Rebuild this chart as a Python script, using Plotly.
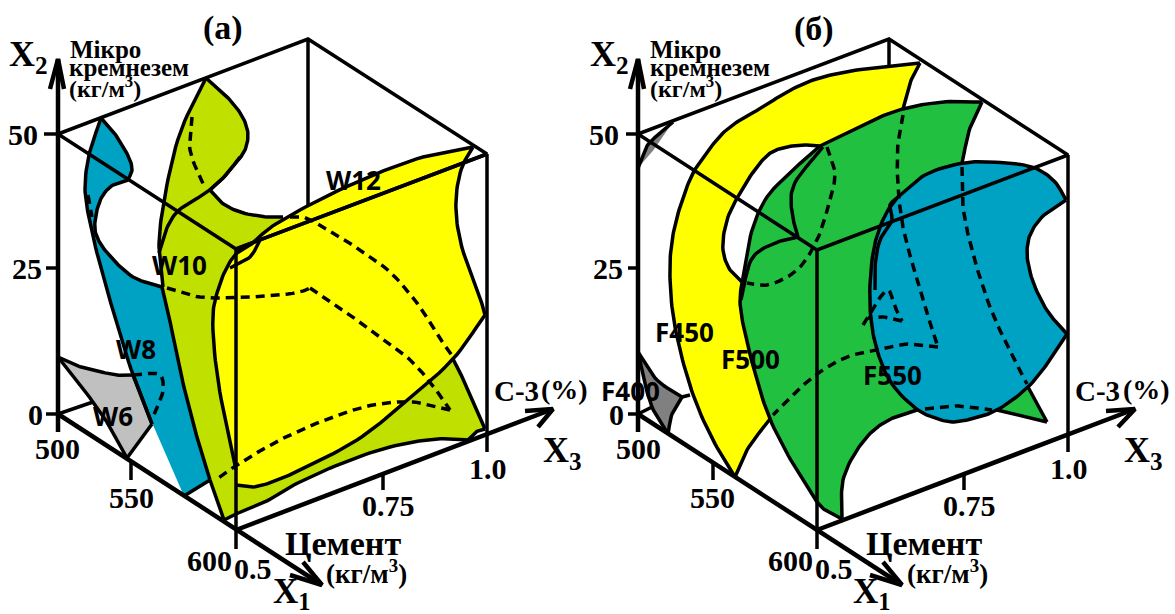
import plotly.graph_objects as go

# ---------- palette ----------
BLUE = "#00A2C4"; LIME = "#C0E000"; YELLOW = "#FFFF00"; GREEN = "#22C040"
GREY = "#C0C0C0"; DGREY = "#808080"; BLACK = "#000000"

# ---------- panel (a): contour boundaries ----------
W6_top = [(58,357),(75,365),(93,370),(117,375),(133,375)]
W6_right = [(133,375),(152,424)]
W6_low = [(152,424),(127,458)]
W6_left = [(127,458),(110,427),(93,402),(58,357)]

W8_right = [(101,118),(112,130),(122,145),(130,160),(132,170),(128,180)]
W8_hole = [(128,180),(113,185),(103,195),(97,210),(95,230),(100,243),(110,256),(133,277),(162,287)]
W8_edge = [(162,287),(167,307),(180,370),(195,430),(210,480)]
W8_bottom = [(210,480),(184,496)]
W8_left = [(152,424),(133,375),(112,307),(98,257),(88,213),(85,187),(89,155),(101,118)]

W10_right = [(206,78),(222,92),(236,107),(245,122),(248,135),(245,150),(236,163),(225,176),(210,190)]
W10_dip = [(210,190),(222,203),(240,212),(267,217),(283,217)]
W10_under = [(283,217),(300,240),(320,300),(320,420),(300,470)]
W10_left = [(163,287),(159,247),(163,207),(180,133),(206,78)]
W10_tip = [(210,480),(224,520)]
W10_tip2 = [(224,520),(236,514)]
W10_bottom = [(236,514),(265,502),(290,487),(340,464),(390,447),(437,439),(468,440)]
W10_corner = [(468,440),(476,432),(485,429)]
W10_far = [(485,429),(467,387),(453,359)]
W10_inner = [(159,253),(166,230),(177,212),(207,192),(225,176),(240,157)]

W12_top = [(473,147),(423,157),(357,182),(300,210),(267,230),(253,243),(237,253),(227,267),(217,293),(213,314),(217,374),(236,470)]
W12_low = [(236,485),(253,487),(275,481),(300,470),(357,440),(403,404),(453,359),(485,315)]
W12_right = [(485,315),(483,307),(460,240),(456,200),(462,167),(473,147)]
W12_extra = [(230,268),(250,257),(260,240)]

A_dash_1 = [(88,195),(92,217)]
A_dash_2 = [(133,375),(160,375),(163,390),(153,417)]
A_dash_3 = [(192,117),(190,150),(205,188)]
A_dash_4 = [(290,217),(303,217),(323,227),(357,248),(390,272),(420,307),(437,334),(453,357)]
A_dash_5 = [(167,288),(200,297),(250,297),(300,292),(310,288)]
A_dash_5b = [(310,288),(340,308),(373,332),(407,357),(430,382),(450,410)]
A_dash_6 = [(450,410),(413,402),(373,405),(333,417),(290,435),(267,447),(237,465),(217,479)]

# ---------- panel (б) ----------
F400_top = [(638,352),(657,380),(682,397)]
F400_tail = [(682,397),(690,395)]
F400_right = [(682,397),(672,414),(668,434)]
F400_left = [(668,434),(652,407),(638,352)]
F400_up = [(638,168),(647,146),(660,133),(673,122)]
F400_up2 = [(673,122),(655,148),(638,168)]

F450_outer = [(920,63),(880,67),(845,72),(813,80),(785,93),(763,107),(740,120),(723,133),(705,155),(693,173),(680,207),(673,235),(670,263),(672,307),(680,350),(695,400),(713,440),(735,477)]
F450_low = [(735,477),(747,450),(770,419)]
F450_edge = [(770,419),(757,380),(743,324),(740,300),(743,283)]
F450_hole = [(743,283),(730,270),(723,250),(727,220),(740,193),(760,163),(772,152),(787,147),(805,145),(820,146)]
F450_top = [(820,146),(847,133),(880,117),(903,109)]
F450_far = [(903,109),(910,83),(920,63)]

F500_left = [(817,502),(793,464),(770,419),(757,380),(743,324),(740,300),(743,277),(753,227),(767,197),(793,170),(820,146)]
F500_top = [(820,146),(880,117),(903,109),(942,102),(982,102)]
F500_far = [(982,102),(970,128),(962,163)]
F500_hid = [(962,163),(1000,250),(1028,387)]
F500_tipr = [(1028,387),(1047,422)]
F500_botr = [(1047,422),(997,410)]
F500_hid2 = [(997,410),(950,410),(917,410)]
F500_botl = [(917,410),(895,417),(875,429),(857,450),(843,480),(842,519)]
F500_corner = [(842,519),(825,510),(817,502)]

F550_top = [(898,197),(925,175),(963,163),(992,162),(1035,168),(1055,182),(1066,200)]
F550_cut = [(1066,200),(1042,217),(1030,235),(1027,253),(1030,272),(1035,287),(1048,312),(1067,334)]
F550_low = [(1067,334),(1050,360),(1028,387),(997,410),(975,418),(952,422),(935,418),(918,410),(892,384),(877,350),(870,307),(873,253),(880,227),(888,210),(898,197)]
F550_inner = [(875,290),(875,267),(880,240),(892,220),(890,205),(898,197)]

B_solid_1 = [(823,147),(793,187),(792,213),(798,237)]
B_solid_2 = [(741,300),(753,257),(775,243),(798,237)]
B_dash_1 = [(827,147),(835,173),(828,207),(817,240),(797,270),(767,285),(747,283)]
B_dash_2 = [(903,115),(898,143),(898,187),(903,227),(915,273),(925,307),(938,347)]
B_dash_3 = [(938,347),(908,344),(882,349),(847,357),(813,377),(773,415)]
B_dash_4 = [(962,167),(963,207),(972,250),(990,307),(1008,347),(1027,384)]
B_dash_5 = [(925,409),(955,406),(992,410)]
B_dash_6a = [(863,325),(875,305),(888,290),(895,307),(902,321)]
B_dash_6b = [(902,321),(885,317),(868,318)]

# ---------- box frames and axes ----------
frame_a = [[(58,134),(308,39),(487,154),(236,249),(58,134)], [(236,249),(487,154)], [(236,249),(236,530)],
           [(308,39),(308,205)], [(487,154),(487,435)], [(58,414),(93,402)]]
frame_b = [[(638,134),(889,39),(1068,155),(817,250),(638,134)], [(817,250),(817,530)],
           [(889,39),(889,65)], [(1068,155),(1068,435)], [(638,414),(654,406)]]
axes_a = [[(58,432),(58,59)], [(50,89),(58,59),(64,89)], [(58,414),(236,530),(322,585)], [(303,562),(322,585),(290,575)],
          [(236,530),(487,435),(553,409)], [(525,411),(553,409),(538,427)]]
axes_b = [[(638,432),(638,59)], [(630,89),(638,59),(644,89)], [(638,414),(817,530),(902,585)], [(883,562),(902,585),(870,575)],
          [(817,530),(1068,435),(1135,409)], [(1106,411),(1135,409),(1118,427)]]
ticks = [[(44,134),(58,134)], [(46,268),(58,268)], [(46,414),(58,414)], [(131,462),(131,480)], [(236,530),(236,549)],
         [(383,474),(383,490)], [(487,435),(487,452)],
         [(626,134),(638,134)], [(628,268),(638,268)], [(628,414),(638,414)], [(713,462),(713,480)], [(817,530),(817,549)],
         [(964,474),(964,490)], [(1068,435),(1068,452)]]

# ---------- texts: string, x, y, size ----------
serif_labels = [
    ("(a)",223,28,34), ("(б)",814,29,34),
    ("X<sub>2</sub>",28,56,36), ("X<sub>2</sub>",609,56,36),
    ("X<sub>3</sub>",562,452,36), ("X<sub>3</sub>",1143,452,36),
    ("X<sub>1</sub>",292,593,35), ("X<sub>1</sub>",872,593,35),
    ("50",23,134,30), ("25",27,268,30), ("0",35,414,30), ("500",57,448,30), ("550",131,497,30), ("600",209,560,30),
    ("0.5",253,568,30), ("0.75",388,505,30), ("1.0",488,468,30),
    ("50",604,134,30), ("25",608,268,30), ("0",616,414,30), ("500",638,448,30), ("550",712,497,30), ("600",790,560,30),
    ("0.5",834,568,30), ("0.75",969,505,30), ("1.0",1069,468,30),
    ("Цемент",343,543,34), ("Цемент",924,543,34),
    ("(кг/м<sup>3</sup>)",366,572,27), ("(кг/м<sup>3</sup>)",947,572,27),
    ("С-3",516,391,29), ("С-3",1097,391,29), ("(%)",564,389,28), ("(%)",1146,389,28),
    ("Мікро",105,49,25), ("кремнезем",129,67,25), ("(кг/м<sup>3</sup>)",105,87,24),
    ("Мікро",685,49,25), ("кремнезем",710,67,25), ("(кг/м<sup>3</sup>)",686,87,24),
]
sans_labels = [
    ("W12",353,180), ("W10",179,265), ("W8",136,349), ("W6",113,416),
    ("F450",684,332), ("F500",750,359), ("F550",892,375), ("F400",630,391),
]


def smooth(pts, steps=10):
    """Draw a hand-read boundary as a smooth (centripetal Catmull-Rom) curve through its points."""
    if len(pts) < 3:
        return list(pts)
    p = [(2*pts[0][0]-pts[1][0], 2*pts[0][1]-pts[1][1])] + list(pts) + [(2*pts[-1][0]-pts[-2][0], 2*pts[-1][1]-pts[-2][1])]
    out = []
    for i in range(1, len(p) - 2):
        p0, p1, p2, p3 = p[i-1], p[i], p[i+1], p[i+2]
        d = lambda a, b: max(((a[0]-b[0])**2 + (a[1]-b[1])**2) ** 0.25, 1e-6)
        t0 = 0.0; t1 = t0 + d(p0, p1); t2 = t1 + d(p1, p2); t3 = t2 + d(p2, p3)
        for k in range(steps):
            t = t1 + (t2 - t1) * k / steps
            q = []
            for a in (0, 1):
                a1 = ((t1-t)*p0[a] + (t-t0)*p1[a]) / (t1-t0)
                a2 = ((t2-t)*p1[a] + (t-t1)*p2[a]) / (t2-t1)
                a3 = ((t3-t)*p2[a] + (t-t2)*p3[a]) / (t3-t2)
                b1 = ((t2-t)*a1 + (t-t0)*a2) / (t2-t0)
                b2 = ((t3-t)*a2 + (t-t1)*a3) / (t3-t1)
                q.append(((t2-t)*b1 + (t-t1)*b2) / (t2-t1))
            out.append(tuple(q))
    out.append(pts[-1])
    return out


fig = go.Figure()


def region(color, *edges):
    poly = []
    for e in edges:
        poly += smooth(e)
    fig.add_trace(go.Scatter(x=[q[0] for q in poly], y=[q[1] for q in poly], mode="lines", fill="toself",
                             fillcolor=color, line=dict(width=0, color=color), hoverinfo="skip", showlegend=False))


def stroke(pts, width=3.5, dash=None, curved=True):
    poly = smooth(pts) if curved else pts
    fig.add_trace(go.Scatter(x=[q[0] for q in poly], y=[q[1] for q in poly], mode="lines",
                             line=dict(width=width, color=BLACK, dash=dash), hoverinfo="skip", showlegend=False))


DASH = "9px,6px"

# back-box pieces go under the coloured surfaces
for seg in frame_a[3:] + frame_b[2:]:
    stroke(seg, 3.5, curved=False)

# panel (a)
region(GREY, W6_top, W6_right, W6_low, W6_left)
region(BLUE, W8_right, W8_hole, W8_edge, W8_bottom, W8_left)
region(LIME, W10_right, W10_dip, W10_under, W10_far[::-1], W10_corner[::-1], W10_bottom[::-1], W10_tip2[::-1], W10_tip[::-1], W8_edge[::-1], W10_left)
region(YELLOW, W12_top, W12_low, W12_right)
for e in [W6_top, W6_right, W6_low, W6_left, W8_right, W8_hole, W8_edge, W8_bottom, W8_left, W10_right, W10_dip, W10_left,
          W10_tip, W10_tip2, W10_bottom, W10_corner, W10_far, W10_inner, W12_top, W12_low, W12_right, W12_extra]:
    stroke(e)
for e in [A_dash_1, A_dash_2, A_dash_3, A_dash_4, A_dash_5, A_dash_5b, A_dash_6]:
    stroke(e, 3.5, DASH)

# panel (б)
region(DGREY, F400_top, F400_right, F400_left)
region(DGREY, F400_up, F400_up2)
region(YELLOW, F450_outer, F450_low, F450_edge, F450_hole, F450_top, F450_far)
region(GREEN, F500_left, F500_top, F500_far, F500_hid, F500_tipr, F500_botr, F500_hid2, F500_botl, F500_corner)
region(BLUE, F550_top, F550_cut, F550_low)
for e in [F400_top, F400_tail, F400_right, F400_left, F400_up, F450_outer, F450_low, F450_hole, F450_far,
          F500_left, F500_top, F500_far, F500_tipr, F500_botr, F500_botl, F500_corner, F550_top, F550_cut, F550_low, F550_inner,
          B_solid_1, B_solid_2]:
    stroke(e)
for e in [B_dash_1, B_dash_2, B_dash_3, B_dash_4, B_dash_5, B_dash_6a, B_dash_6b]:
    stroke(e, 3.5, DASH)

# frame and axes
for seg in frame_a[:3] + frame_b[:2]:
    stroke(seg, 3.5, curved=False)
for seg in axes_a + axes_b:
    stroke(seg, 4.5, curved=False)
for seg in ticks:
    stroke(seg, 3.5, curved=False)

annotations = []
for s, x, y, size in serif_labels:
    annotations.append(dict(text=f"<b>{s}</b>", x=x, y=y, xref="x", yref="y", showarrow=False, xanchor="center", yanchor="middle",
                            font=dict(family="Liberation Serif", size=size, color=BLACK)))
for s, x, y in sans_labels:
    annotations.append(dict(text=f"<b>{s}</b>", x=x, y=y, xref="x", yref="y", showarrow=False, xanchor="center", yanchor="middle",
                            font=dict(family="Open Sans", size=26, color=BLACK)))

fig.update_layout(width=1175, height=614, margin=dict(l=0, r=0, t=0, b=0), paper_bgcolor="white", plot_bgcolor="white",
                  xaxis=dict(range=[0, 1175], visible=False, fixedrange=True),
                  yaxis=dict(range=[614, 0], visible=False, fixedrange=True),
                  annotations=annotations, showlegend=False)
fig.write_html("out.html", config=dict(displayModeBar=False), post_script="document.body.style.margin='0';")
